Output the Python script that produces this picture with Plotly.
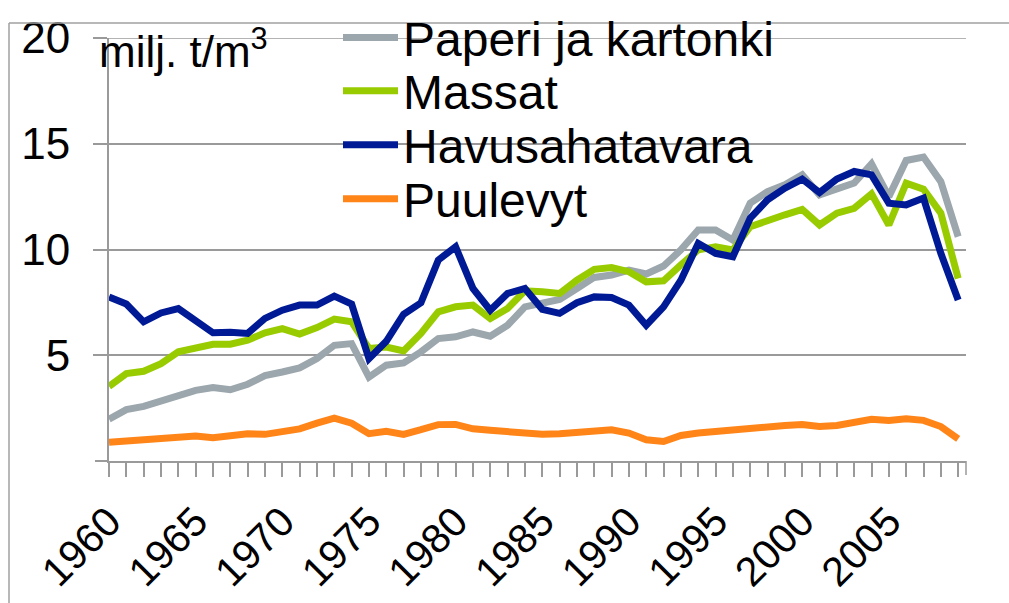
import plotly.graph_objects as go

years = list(range(1960, 2010))
tick_years = [1960, 1965, 1970, 1975, 1980, 1985, 1990, 1995, 2000, 2005]
y_ticks = [5, 10, 15, 20]
y_ticktext = ["5", "10", "15", "20"]

paperi = [1.98, 2.43, 2.58, 2.82, 3.09, 3.34, 3.47, 3.37, 3.63, 4.04,
          4.21, 4.40, 4.84, 5.47, 5.55, 3.97, 4.53, 4.64, 5.16, 5.79,
          5.87, 6.10, 5.90, 6.42, 7.29, 7.45, 7.64, 8.16, 8.68, 8.79,
          9.03, 8.84, 9.22, 9.98, 10.92, 10.92, 10.45, 12.19, 12.74, 13.06,
          13.53, 12.58, 12.85, 13.14, 14.05, 12.50, 14.21, 14.37, 13.21, 10.61]
massat = [3.53, 4.13, 4.24, 4.60, 5.16, 5.36, 5.52, 5.52, 5.71, 6.06,
          6.26, 6.00, 6.31, 6.71, 6.58, 5.32, 5.39, 5.20, 6.03, 7.05,
          7.29, 7.37, 6.74, 7.21, 8.05, 8.00, 7.92, 8.55, 9.06, 9.15,
          8.95, 8.47, 8.52, 9.27, 9.98, 10.13, 9.98, 11.08, 11.32, 11.64,
          11.90, 11.16, 11.72, 11.95, 12.63, 11.16, 13.14, 12.85, 11.72, 8.63]
havu = [7.76, 7.42, 6.58, 7.00, 7.21, 6.66, 6.06, 6.09, 6.03, 6.74,
        7.13, 7.37, 7.37, 7.80, 7.42, 4.84, 5.66, 6.94, 7.48, 9.50,
        10.13, 8.16, 7.13, 7.92, 8.16, 7.17, 6.98, 7.48, 7.76, 7.73,
        7.37, 6.42, 7.29, 8.55, 10.29, 9.82, 9.66, 11.48, 12.35, 12.90,
        13.33, 12.69, 13.33, 13.69, 13.53, 12.19, 12.11, 12.43, 9.82, 7.61]
puu = [0.89, 0.94, 0.97, 1.05, 1.11, 1.18, 1.10, 1.16, 1.29, 1.26,
       1.41, 1.52, 1.79, 2.03, 1.79, 1.29, 1.40, 1.26, 1.48, 1.72,
       1.73, 1.52, 1.45, 1.37, 1.29, 1.26, 1.29, 1.35, 1.41, 1.48,
       1.32, 1.00, 0.92, 1.21, 1.32, 1.40, 1.49, 1.60, 1.60, 1.68,
       1.73, 1.63, 1.68, 1.84, 1.97, 1.92, 2.00, 1.92, 1.63, 1.05]

names = ["Paperi ja kartonki", "Massat", "Havusahatavara", "Puulevyt"]
series = [paperi, massat, havu, puu]
colors = ["#9BA6AD", "#99CC00", "#001A96", "#FF8519"]
legend_ids = ["legend", "legend2", "legend3", "legend4"]

FONT = "Liberation Sans, Arial, sans-serif"
GRID = "#9A9A9A"

fig = go.Figure()
for name, vals, col, lg in zip(names, series, colors, legend_ids):
    fig.add_trace(go.Scatter(x=years, y=vals, mode="lines", name=name,
                             line=dict(color=col, width=7), legend=lg))

# plot area geometry (pixels)
W, H = 1009, 603
L, R, T, B = 109, 43, 38, 142
pw, ph = W - L - R, H - T - B

def px2paper_x(px):
    return (px - L) / pw

def px2paper_y(py):
    return (H - B - py) / ph

legend_rows = [37.7, 91, 145, 199]
leg_common = dict(x=px2paper_x(338), xanchor="left", yanchor="middle",
                  bgcolor="rgba(0,0,0,0)", font=dict(family=FONT, size=48, color="black"),
                  itemwidth=55, borderwidth=0)
layout_legends = {}
for lg, row in zip(legend_ids, legend_rows):
    layout_legends[lg] = dict(leg_common, y=px2paper_y(row))

fig.update_layout(
    width=W, height=H,
    margin=dict(l=L, r=R, t=T, b=B, pad=0, autoexpand=False),
    paper_bgcolor="white", plot_bgcolor="white",
    font=dict(family=FONT, size=44, color="black"),
    showlegend=True,
    **layout_legends,
    xaxis=dict(range=[1960, 1960 + (966 - 109) / 17.33], tickmode="array",
               tickvals=tick_years, ticktext=[str(y) for y in tick_years],
               tickangle=-45, ticks="outside", ticklen=14, tickwidth=1.5, tickcolor=GRID,
               minor=dict(dtick=1, tick0=1960, ticks="outside", ticklen=14, tickwidth=1.5, tickcolor=GRID),
               showgrid=False, showline=True, linecolor=GRID, linewidth=2, automargin=False,
               tickfont=dict(family=FONT, size=41, color="black"), zeroline=False,
               ticklabelstandoff=4),
    yaxis=dict(range=[0, 20], tickmode="array", tickvals=y_ticks, ticktext=y_ticktext,
               ticks="outside", ticklen=14, tickwidth=1.5, tickcolor=GRID,
               showgrid=True, gridcolor=GRID, gridwidth=1.5, automargin=False,
               showline=True, linecolor=GRID, linewidth=2, zeroline=False,
               tickfont=dict(family=FONT, size=44, color="black"),
               ticklabelstandoff=14),
)

fig.add_annotation(text="milj. t/m<sup>3</sup>", xref="paper", yref="paper",
                   x=px2paper_x(97), y=px2paper_y(48), xanchor="left", yanchor="middle",
                   showarrow=False, font=dict(family=FONT, size=44, color="black"))

# outer chart frame (left and top edges), end tick, tick at y=0 and top gridline
fig.add_shape(type="line", xref="paper", yref="paper",
              x0=px2paper_x(9), x1=px2paper_x(9), y0=px2paper_y(23), y1=px2paper_y(610),
              line=dict(color="#A0A0A0", width=1.5))
fig.add_shape(type="line", xref="paper", yref="paper",
              x0=px2paper_x(9), x1=px2paper_x(1015), y0=px2paper_y(23), y1=px2paper_y(23),
              line=dict(color="#A0A0A0", width=1.5))
fig.add_shape(type="line", xref="paper", yref="paper",
              x0=1, x1=1, y0=0, y1=px2paper_y(475),
              line=dict(color=GRID, width=1.5))
fig.add_shape(type="line", xref="paper", yref="paper",
              x0=px2paper_x(95), x1=0, y0=0, y1=0,
              line=dict(color=GRID, width=2))
fig.add_shape(type="line", xref="paper", yref="y", layer="below",
              x0=0, x1=1, y0=20, y1=20,
              line=dict(color=GRID, width=1.5))

fig.write_html("out.html", config={"displayModeBar": False},
               post_script="document.body.style.margin='0';")
